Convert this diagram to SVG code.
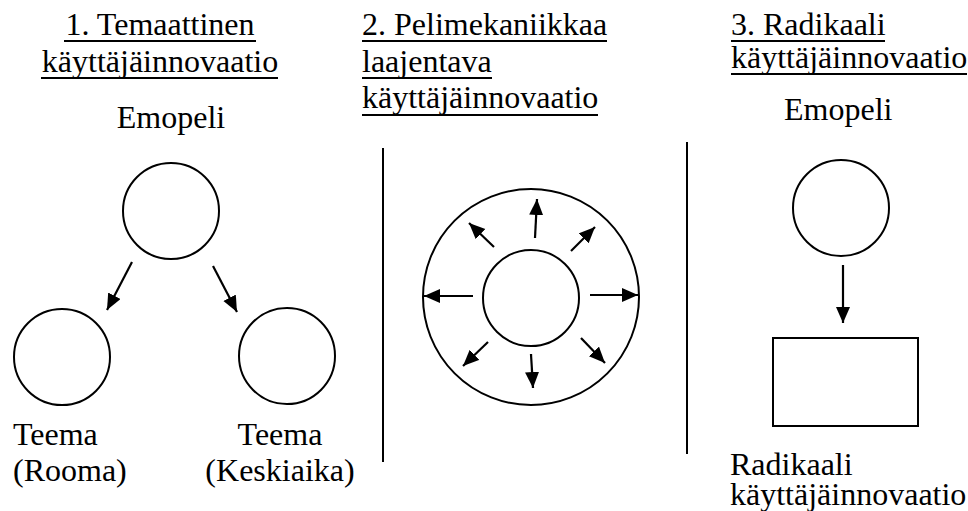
<svg xmlns="http://www.w3.org/2000/svg" width="968" height="511" viewBox="0 0 968 511">
  <style>
    .shape { fill: #fff; stroke: #000; stroke-width: 2; }
    .edge { stroke: #000; stroke-width: 2.2; fill: none; marker-end: url(#head); }
    .rule { stroke: #000; stroke-width: 2; }
  </style>
  <defs>
    <marker id="head" markerUnits="userSpaceOnUse" markerWidth="18" markerHeight="16" refX="16" refY="7" orient="auto">
      <path d="M0,0 L16,7 L0,14 Z" fill="#000"/>
    </marker>
  </defs>
  <rect width="968" height="511" fill="#fff"/>

  <!-- column headings -->
  <g id="heading-1">
    <text font-family="Liberation Serif" font-size="32" text-anchor="middle" x="160" y="35">1. Temaattinen</text>
    <text font-family="Liberation Serif" font-size="32" text-anchor="middle" x="160" y="72">käyttäjäinnovaatio</text>
    <line class="rule" x1="64" y1="41" x2="256" y2="41"/>
    <line class="rule" x1="41" y1="78" x2="278" y2="78"/>
  </g>
  <g id="heading-2">
    <text font-family="Liberation Serif" font-size="32" x="362" y="35">2. Pelimekaniikkaa</text>
    <text font-family="Liberation Serif" font-size="32" x="362" y="72">laajentava</text>
    <text font-family="Liberation Serif" font-size="32" x="362" y="108">käyttäjäinnovaatio</text>
    <line class="rule" x1="362" y1="41" x2="607" y2="41"/>
    <line class="rule" x1="362" y1="78" x2="492" y2="78"/>
    <line class="rule" x1="362" y1="115" x2="598" y2="115"/>
  </g>
  <g id="heading-3">
    <text font-family="Liberation Serif" font-size="32" x="731" y="35">3. Radikaali</text>
    <text font-family="Liberation Serif" font-size="32" x="731" y="68">käyttäjäinnovaatio</text>
    <line class="rule" x1="731" y1="41" x2="885" y2="41"/>
    <line class="rule" x1="731" y1="74" x2="967" y2="74"/>
  </g>

  <!-- column separators -->
  <g id="separators">
    <line class="rule" x1="383" y1="148" x2="383" y2="462"/>
    <line class="rule" x1="687" y1="142" x2="687" y2="454"/>
  </g>

  <!-- 1: parent game branching into themes -->
  <g id="emopeli-1">
    <text font-family="Liberation Serif" font-size="32" text-anchor="middle" x="171" y="128">Emopeli</text>
    <circle class="shape" cx="171" cy="211" r="48"/>
  </g>
  <g id="teema-rooma">
    <circle class="shape" cx="62" cy="357" r="48"/>
    <text font-family="Liberation Serif" font-size="32" x="13" y="445">Teema</text>
    <text font-family="Liberation Serif" font-size="32" x="13" y="481">(Rooma)</text>
  </g>
  <g id="teema-keskiaika">
    <circle class="shape" cx="287" cy="356" r="48"/>
    <text font-family="Liberation Serif" font-size="32" text-anchor="middle" x="280" y="445">Teema</text>
    <text font-family="Liberation Serif" font-size="32" text-anchor="middle" x="280" y="481">(Keskiaika)</text>
  </g>

  <!-- 2: core game and its extended mechanics -->
  <g id="laajennus">
    <circle class="shape" cx="531" cy="297" r="108"/>
  </g>
  <g id="ydinpeli">
    <circle class="shape" cx="531" cy="298" r="48"/>
  </g>

  <!-- 3: parent game turned into a new product -->
  <g id="emopeli-3">
    <text font-family="Liberation Serif" font-size="32" x="784" y="120">Emopeli</text>
    <circle class="shape" cx="841" cy="208" r="48"/>
  </g>
  <g id="radikaali">
    <rect class="shape" x="773" y="338" width="145" height="88"/>
    <text font-family="Liberation Serif" font-size="32" x="730" y="475">Radikaali</text>
    <text font-family="Liberation Serif" font-size="32" x="730" y="505">käyttäjäinnovaatio</text>
  </g>

  <!-- connectors -->
  <g id="connectors">
    <line class="edge" x1="132" y1="262" x2="107" y2="310"/>
    <line class="edge" x1="213" y1="266" x2="237" y2="312"/>

    <line class="edge" x1="535" y1="238" x2="537" y2="199"/>
    <line class="edge" x1="571" y1="251" x2="595" y2="227"/>
    <line class="edge" x1="590" y1="295" x2="638" y2="295"/>
    <line class="edge" x1="581" y1="338" x2="605" y2="363"/>
    <line class="edge" x1="531" y1="354" x2="533" y2="388"/>
    <line class="edge" x1="488" y1="342" x2="463" y2="366"/>
    <line class="edge" x1="473" y1="296" x2="424" y2="296"/>
    <line class="edge" x1="494" y1="247" x2="469" y2="223"/>

    <line class="edge" x1="843" y1="265" x2="843" y2="323"/>
  </g>
</svg>
